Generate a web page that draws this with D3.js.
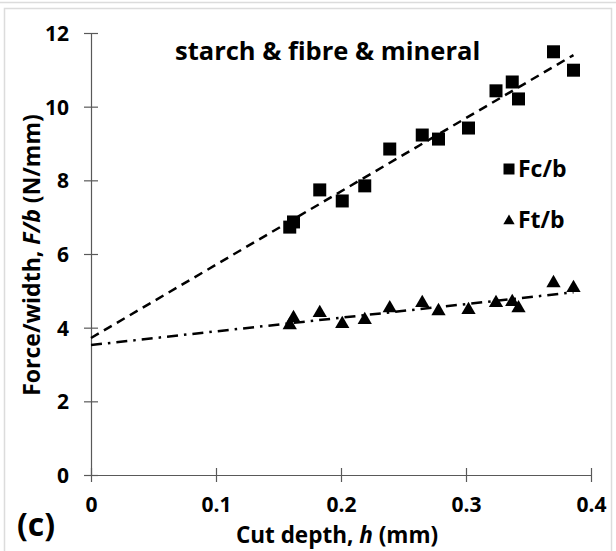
<!DOCTYPE html>
<html>
<head>
<meta charset="utf-8">
<script src="https://cdn.jsdelivr.net/npm/d3@7"></script>
<style>
  body { margin: 0; background: #fff; }
  text { font-family: "Open Sans", sans-serif; font-weight: bold; fill: #000; }
</style>
</head>
<body>
<div id="chart"></div>
<script>
// values
var cutDepth = [0.159, 0.162, 0.183, 0.201, 0.219, 0.239, 0.265, 0.278, 0.302, 0.324, 0.337, 0.342, 0.370, 0.386];
var fcB = [6.73, 6.87, 7.74, 7.44, 7.85, 8.85, 9.23, 9.12, 9.42, 10.43, 10.67, 10.21, 11.49, 10.99];
var ftB = [4.07, 4.26, 4.40, 4.10, 4.21, 4.53, 4.67, 4.45, 4.48, 4.67, 4.70, 4.53, 5.21, 5.08];
var xTicks = [0, 0.1, 0.2, 0.3, 0.4];
var yTicks = [0, 2, 4, 6, 8, 10, 12];

var svgWidth = 616, svgHeight = 551;
var margin = { top: 33, left: 91, right: 25, bottom: 76 };
var width = 591 - margin.left;
var height = 475 - margin.top;

var svg = d3.select("#chart").append("svg")
    .attr("width", svgWidth)
    .attr("height", svgHeight);

// light frame like the source figure
svg.append("line").attr("x1", 0).attr("x2", svgWidth).attr("y1", 2.5).attr("y2", 2.5)
    .attr("stroke", "#dcdcdc").attr("stroke-width", 1.5);
svg.append("rect").attr("x", 4.5).attr("y", 8.5).attr("width", 607).attr("height", 560)
    .attr("fill", "none").attr("stroke", "#dcdcdc").attr("stroke-width", 1.5);

var chartGroup = svg.append("g")
    .attr("transform", `translate(${margin.left}, ${margin.top})`);

var xScale = d3.scaleLinear().domain([0, 0.4]).range([0, width]);
var yScale = d3.scaleLinear().domain([0, 12]).range([height, 0]);

var bottomAxis = d3.axisBottom(xScale).tickValues(xTicks).tickFormat(d3.format("")).tickSize(0);
var leftAxis = d3.axisLeft(yScale).tickValues(yTicks).tickSize(0);

var xAxisG = chartGroup.append("g").attr("transform", `translate(0, ${height})`).call(bottomAxis);
var yAxisG = chartGroup.append("g").call(leftAxis);

[xAxisG, yAxisG].forEach(function (g) {
    g.select(".domain").attr("stroke", "#595959").attr("stroke-width", 1.2);
    g.selectAll("text").style("font-size", "21px").attr("fill", "#000");
});
// cross ticks
xAxisG.selectAll(".tick line").attr("y1", -7).attr("y2", 7).attr("stroke", "#595959").attr("stroke-width", 1.2);
yAxisG.selectAll(".tick line").attr("x1", -7).attr("x2", 7).attr("stroke", "#595959").attr("stroke-width", 1.2);
xAxisG.selectAll(".tick text").attr("y", 22).attr("dy", "0.71em");
yAxisG.selectAll(".tick text").attr("x", -22).attr("dy", "0.35em");

// least squares trend lines, drawn back to h = 0
function fit(xs, ys) {
    var mx = d3.mean(xs), my = d3.mean(ys);
    var sxy = d3.sum(xs, (x, i) => (x - mx) * (ys[i] - my));
    var sxx = d3.sum(xs, x => (x - mx) * (x - mx));
    var m = sxy / sxx;
    return { m: m, c: my - m * mx };
}
var xMax = d3.max(cutDepth);
var line = d3.line().x(d => xScale(d[0])).y(d => yScale(d[1]));

var fc = fit(cutDepth, fcB);
chartGroup.append("path")
    .attr("d", line([[0, fc.c], [xMax, fc.c + fc.m * xMax]]))
    .attr("fill", "none").attr("stroke", "#000").attr("stroke-width", 2.5)
    .attr("stroke-dasharray", "9,6");

var ft = fit(cutDepth, ftB);
chartGroup.append("path")
    .attr("d", line([[0, ft.c], [xMax, ft.c + ft.m * xMax]]))
    .attr("fill", "none").attr("stroke", "#000").attr("stroke-width", 2.5)
    .attr("stroke-dasharray", "11,6,2.5,6");

// markers
var square = d3.symbol().type(d3.symbolSquare).size(169);
var triangle = d3.symbol().type(d3.symbolTriangle).size(88);

chartGroup.selectAll(".fc").data(cutDepth).enter().append("path")
    .attr("class", "fc")
    .attr("d", square)
    .attr("transform", (d, i) => `translate(${xScale(d)}, ${yScale(fcB[i])})`)
    .attr("fill", "#000");

chartGroup.selectAll(".ft").data(cutDepth).enter().append("path")
    .attr("class", "ft")
    .attr("d", triangle)
    .attr("transform", (d, i) => `translate(${xScale(d)}, ${yScale(ftB[i])})`)
    .attr("fill", "#000");

// legend
svg.append("path").attr("d", d3.symbol().type(d3.symbolSquare).size(121)())
    .attr("transform", "translate(509, 169)").attr("fill", "#000");
svg.append("text").attr("x", 518).attr("y", 177).style("font-size", "23px").text("Fc/b");
svg.append("path").attr("d", d3.symbol().type(d3.symbolTriangle).size(56)())
    .attr("transform", "translate(509, 221)").attr("fill", "#000");
svg.append("text").attr("x", 518).attr("y", 228).style("font-size", "23px").text("Ft/b");

// title inside plot
svg.append("text").attr("x", 175).attr("y", 60).style("font-size", "25.5px")
    .text("starch & fibre & mineral");

// axis titles
var xTitle = svg.append("text").attr("x", 337).attr("y", 543)
    .attr("text-anchor", "middle").style("font-size", "22.5px");
xTitle.append("tspan").text("Cut depth, ");
xTitle.append("tspan").style("font-style", "italic").text("h");
xTitle.append("tspan").text(" (mm)");

var yTitle = svg.append("text")
    .attr("transform", "translate(40, 255) rotate(-90)")
    .attr("text-anchor", "middle").style("font-size", "23px");
yTitle.append("tspan").text("Force/width, ");
yTitle.append("tspan").style("font-style", "italic").text("F/b");
yTitle.append("tspan").text(" (N/mm)");

// panel letter
svg.append("text").attr("x", 17).attr("y", 536).style("font-size", "32px").text("(c)");
</script>
</body>
</html>
